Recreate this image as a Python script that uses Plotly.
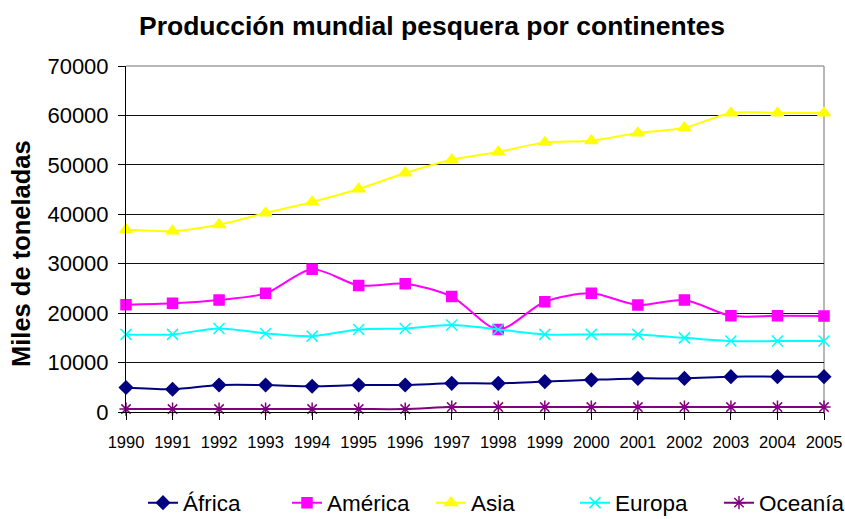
import plotly.graph_objects as go

years = list(range(1990, 2006))
africa = [4950, 4600, 5450, 5450, 5200, 5450, 5450, 5800, 5800, 6150, 6500, 6800, 6800, 7150, 7150, 7150]
america = [21700, 22000, 22650, 24000, 28900, 25600, 25950, 23350, 16700, 22300, 24000, 21650, 22650, 19450, 19450, 19400]
asia = [36900, 36600, 37900, 40250, 42500, 45100, 48350, 51050, 52600, 54550, 54900, 56450, 57500, 60500, 60500, 60500]
europa = [15700, 15700, 16900, 15900, 15350, 16700, 16900, 17600, 16700, 15700, 15700, 15700, 15000, 14350, 14350, 14350]
oceania = [600, 600, 600, 600, 600, 600, 600, 1000, 1000, 1000, 1000, 1000, 1000, 1000, 1000, 1000]

series_names = ["África", "América", "Asia", "Europa", "Oceanía"]
series_vals = [africa, america, asia, europa, oceania]
colors = ["#000080", "#FF00FF", "#FFFF00", "#00FFFF", "#800080"]
symbols = ["diamond", "square", "triangle-up", "x-thin-open", "asterisk-open"]
sizes = [10, 10, 11, 11, 11]

FONT = "Liberation Sans, Arial, sans-serif"

W, H = 845, 519
ML, MR, MT, MB = 126, 21, 66, 107
PW = W - ML - MR
PH = H - MT - MB

fig = go.Figure()
for name, vals, c, s, sz in zip(series_names, series_vals, colors, symbols, sizes):
    fig.add_trace(go.Scatter(
        x=years, y=vals, name=name, mode="lines+markers",
        line=dict(color=c, width=2, shape="spline", smoothing=0.8),
        marker=dict(color=c, symbol=s, size=sz, line=dict(color=c, width=1.5)),
        cliponaxis=False,
    ))

fig.update_layout(
    width=W, height=H,
    margin=dict(l=ML, r=MR, t=MT, b=MB, autoexpand=False),
    paper_bgcolor="white", plot_bgcolor="white",
    font=dict(family=FONT, color="black"),
    title=dict(text="<b>Producción mundial pesquera por continentes</b>",
               font=dict(family=FONT, size=26.5, color="black"),
               x=432 / W, xanchor="center", xref="container",
               y=1 - 26 / H, yanchor="middle", yref="container"),
    showlegend=True,
    legend=dict(orientation="h", x=(863 - ML) / PW, xanchor="right",
                y=(MT + PH - 503) / PH, yanchor="middle",
                font=dict(family=FONT, size=22.5, color="black"),
                entrywidth=99, entrywidthmode="pixels",
                itemwidth=30, tracegroupgap=0, bgcolor="rgba(0,0,0,0)"),
)

fig.update_xaxes(
    range=[1990, 2005], tickmode="linear", tick0=1990, dtick=1, tickformat="d",
    tickangle=0,
    showgrid=False, zeroline=False,
    showline=True, linecolor="black", linewidth=1,
    ticks="outside", ticklen=7, tickcolor="black", ticklabelstandoff=8,
    tickfont=dict(family=FONT, size=16.5, color="black"),
)
fig.update_yaxes(
    range=[0, 70000], tickmode="linear", tick0=0, dtick=10000, tickformat="d",
    showgrid=True, gridcolor="#111111", gridwidth=1, zeroline=False,
    showline=True, linecolor="black", linewidth=1,
    ticks="outside", ticklen=7, tickcolor="black", ticklabelstandoff=5,
    tickfont=dict(family=FONT, size=22, color="black"),
)

# light gray frame on top and right of plot area
fig.add_shape(type="line", xref="paper", yref="paper", x0=0, x1=1, y0=1, y1=1,
              line=dict(color="#a0a0a0", width=1.5), layer="above")
fig.add_shape(type="line", xref="paper", yref="paper", x0=1, x1=1, y0=0, y1=1,
              line=dict(color="#a0a0a0", width=1.5), layer="below")

fig.add_annotation(text="<b>Miles de toneladas</b>", textangle=-90,
                   xref="paper", yref="paper", x=(21 - ML) / PW, y=(MT + PH - 254) / PH,
                   xanchor="center", yanchor="middle", showarrow=False,
                   font=dict(family=FONT, size=25.5, color="black"))

fig.write_html("out.html", config={"displayModeBar": False},
               post_script="document.body.style.margin='0';")
